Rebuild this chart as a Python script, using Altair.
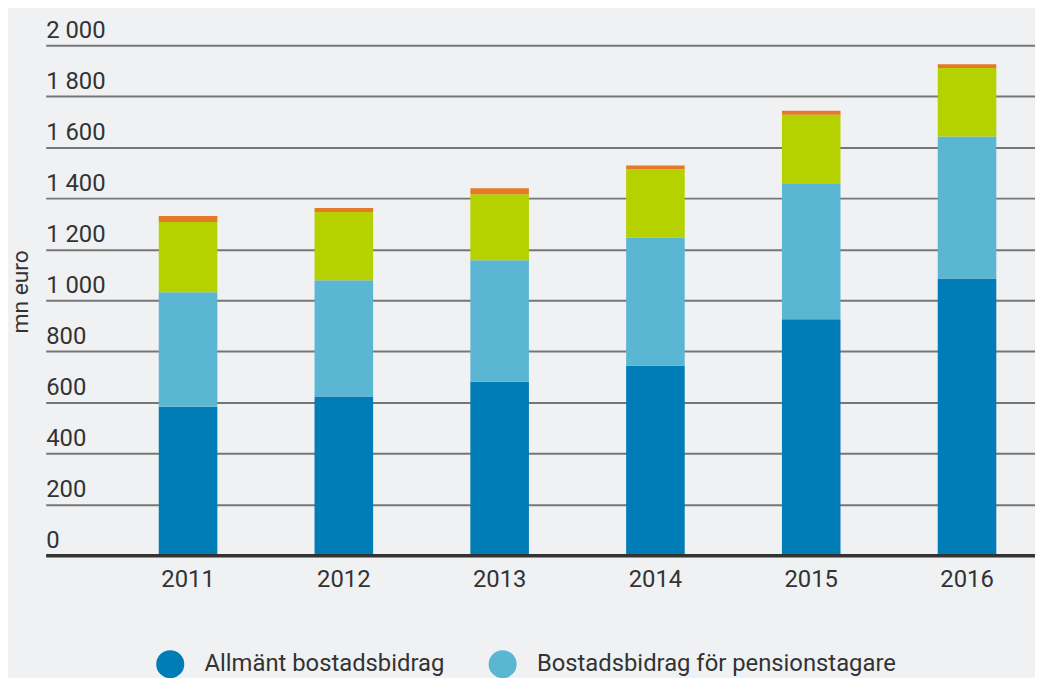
import altair as alt
import pandas as pd

years = ["2011", "2012", "2013", "2014", "2015", "2016"]
series = [
    "Allmänt bostadsbidrag",
    "Bostadsbidrag för pensionstagare",
    "Bostadstillägg för studerande",
    "Bostadsunderstöd inom militärunderstödet",
]
allmant = [583, 623, 681, 743, 926, 1086]
pension = [449, 456, 476, 502, 533, 556]
studerande = [275, 267, 259, 269, 269, 269]
militar = [24, 16, 24, 15, 15, 15]
colors = ["#007cb6", "#5bb6d4", "#b5d100", "#e57a26"]
y_ticks = [0, 200, 400, 600, 800, 1000, 1200, 1400, 1600, 1800, 2000]
legend_shown = series[:2]  # the reference shows only the first legend row

rows = []
for i, yr in enumerate(years):
    for j, (name, vals) in enumerate(zip(series, [allmant, pension, studerande, militar])):
        rows.append({"year": yr, "series": name, "value": vals[i], "order": j})
df = pd.DataFrame(rows)

FONT = "Roboto"
TXT = "#333333"

chart = (
    alt.Chart(df)
    .mark_bar()
    .encode(
        x=alt.X(
            "year:N",
            sort=years,
            scale=alt.Scale(paddingInner=0.624, paddingOuter=0.487, align=0.745),
            axis=alt.Axis(
                title=None, labelAngle=0, ticks=False, tickSize=0, domain=True,
                domainColor="#333333", domainWidth=3.5, labelFontSize=24,
                labelColor=TXT, labelPadding=12, zindex=1, labelFont=FONT,
            ),
        ),
        y=alt.Y(
            "value:Q",
            stack="zero",
            scale=alt.Scale(domain=[0, 2000], nice=False),
            axis=alt.Axis(
                title="mn euro", values=y_ticks, grid=True, gridColor="#767676",
                gridWidth=2, domain=False, ticks=False, tickSize=0,
                labelAlign="left", labelBaseline="alphabetic", labelPadding=0,
                labelOffset=-8, labelFontSize=24, labelColor=TXT, labelFont=FONT,
                labelExpr="replace(format(datum.value, ','), ',', ' ')",
                labelOverlap=False, titleFontSize=23, titleFontWeight="normal",
                titleColor=TXT, titleFont=FONT, titleAngle=270, titleAlign="center",
                titleBaseline="middle", titleX=-25, titleY=248,
            ),
        ),
        color=alt.Color(
            "series:N",
            scale=alt.Scale(domain=series, range=colors),
            legend=alt.Legend(
                title=None, orient="none", legendX=111, legendY=609,
                values=legend_shown,
                direction="horizontal", columns=2,
                symbolType="circle", symbolSize=800, symbolStrokeWidth=0,
                labelFontSize=24, labelFont=FONT, labelColor=TXT, labelOffset=20,
                columnPadding=44, rowPadding=10, labelLimit=0,
            ),
        ),
        order=alt.Order("order:Q"),
    )
    .properties(
        width=997,
        height=514,
        autosize=alt.AutoSizeParams(type="none"),
        padding={"left": 38, "top": 35, "right": 0, "bottom": 121},
    )
    .configure(background="#f0f1f3", font=FONT)
    .configure_view(stroke=None)
)

chart.save("out.html", embed_options={"renderer": "svg", "actions": False})
